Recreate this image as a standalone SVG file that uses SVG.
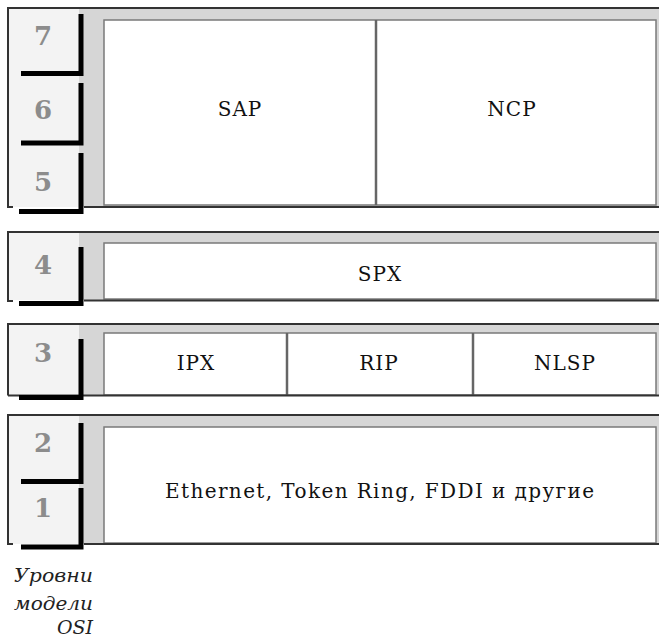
<svg xmlns="http://www.w3.org/2000/svg" width="659" height="640" viewBox="0 0 659 640">
<style>
.bg{fill:#d6d6d6}
.cell{fill:#f3f3f3}
.box{fill:#fff;stroke:#7a7a7a;stroke-width:1.5}
.div{stroke:#666;stroke-width:2.5}
.frame{fill:none;stroke:#333;stroke-width:2}
.bar{fill:none;stroke:#000;stroke-width:5;stroke-linejoin:miter}
.num{font-family:"DejaVu Serif","Liberation Serif",serif;font-weight:bold;font-size:26px;fill:#8c8c8c;text-anchor:middle}
.lbl{font-family:"DejaVu Serif","Liberation Serif",serif;font-size:20px;fill:#111;text-anchor:middle;letter-spacing:1px}
.osi{font-family:"DejaVu Serif","Liberation Serif",serif;font-style:italic;font-size:19px;fill:#222;text-anchor:end}
</style>
<rect width="659" height="640" fill="#fff"/>
<g id="block-567">
<rect class="bg" x="8" y="8" width="651" height="199"/>
<rect class="cell" x="9" y="9" width="70" height="198"/>
<rect class="box" x="104" y="20" width="552" height="185"/>
<line class="div" x1="376" y1="20" x2="376" y2="205"/>
<path class="frame" d="M13 207 H8 V8 H659 M84 207 H659"/>
<path class="bar" d="M81 14 V73.5 H21"/>
<path class="bar" d="M81 83 V143 H21"/>
<path class="bar" d="M81 153 V211.5 H19"/>
<text class="num" x="43" y="45">7</text>
<text class="num" x="43" y="119">6</text>
<text class="num" x="43" y="191">5</text>
</g>
<g id="node-sap"><text class="lbl" x="240" y="116">SAP</text></g>
<g id="node-ncp"><text class="lbl" x="512" y="116">NCP</text></g>
<g id="block-4">
<rect class="bg" x="8" y="232" width="651" height="68"/>
<rect class="cell" x="9" y="233" width="70" height="67"/>
<rect class="box" x="104" y="243" width="552" height="56"/>
<path class="frame" d="M13 301 H8 V232 H659 M84 300.5 H659"/>
<path class="bar" d="M81 247 V303.5 H19"/>
<text class="num" x="43" y="274">4</text>
</g>
<g id="node-spx"><text class="lbl" x="380" y="281">SPX</text></g>
<g id="block-3">
<rect class="bg" x="8" y="324" width="651" height="71"/>
<rect class="cell" x="9" y="325" width="70" height="70"/>
<rect class="box" x="104" y="333" width="552" height="62"/>
<line class="div" x1="287" y1="333" x2="287" y2="395"/>
<line class="div" x1="473" y1="333" x2="473" y2="395"/>
<path class="frame" d="M8 395.5 V324 H659 M8 395.5 H659"/>
<path class="bar" d="M81 339 V397.5 H19"/>
<text class="num" x="43" y="362">3</text>
</g>
<g id="node-ipx"><text class="lbl" x="196" y="370">IPX</text></g>
<g id="node-rip"><text class="lbl" x="379" y="370">RIP</text></g>
<g id="node-nlsp"><text class="lbl" x="565" y="370">NLSP</text></g>
<g id="block-12">
<rect class="bg" x="8" y="415" width="651" height="129"/>
<rect class="cell" x="9" y="416" width="70" height="128"/>
<rect class="box" x="104" y="427" width="552" height="116"/>
<path class="frame" d="M13 544 H8 V415 H659 M84 544 H659"/>
<path class="bar" d="M81 423 V481.5 H21"/>
<path class="bar" d="M81 488 V547 H21"/>
<text class="num" x="43" y="452">2</text>
<text class="num" x="43" y="517">1</text>
</g>
<g id="node-ethernet"><text class="lbl" x="380" y="498" font-size="17" letter-spacing="0" textLength="430" lengthAdjust="spacing">Ethernet, Token Ring, FDDI и другие</text></g>
<g id="osi-caption">
<text class="osi" x="93" y="582" textLength="79" lengthAdjust="spacingAndGlyphs">Уровни</text>
<text class="osi" x="93" y="610" textLength="79" lengthAdjust="spacingAndGlyphs">модели</text>
<text class="osi" x="93" y="634">OSI</text>
</g>
<g id="connectors"></g>
</svg>
